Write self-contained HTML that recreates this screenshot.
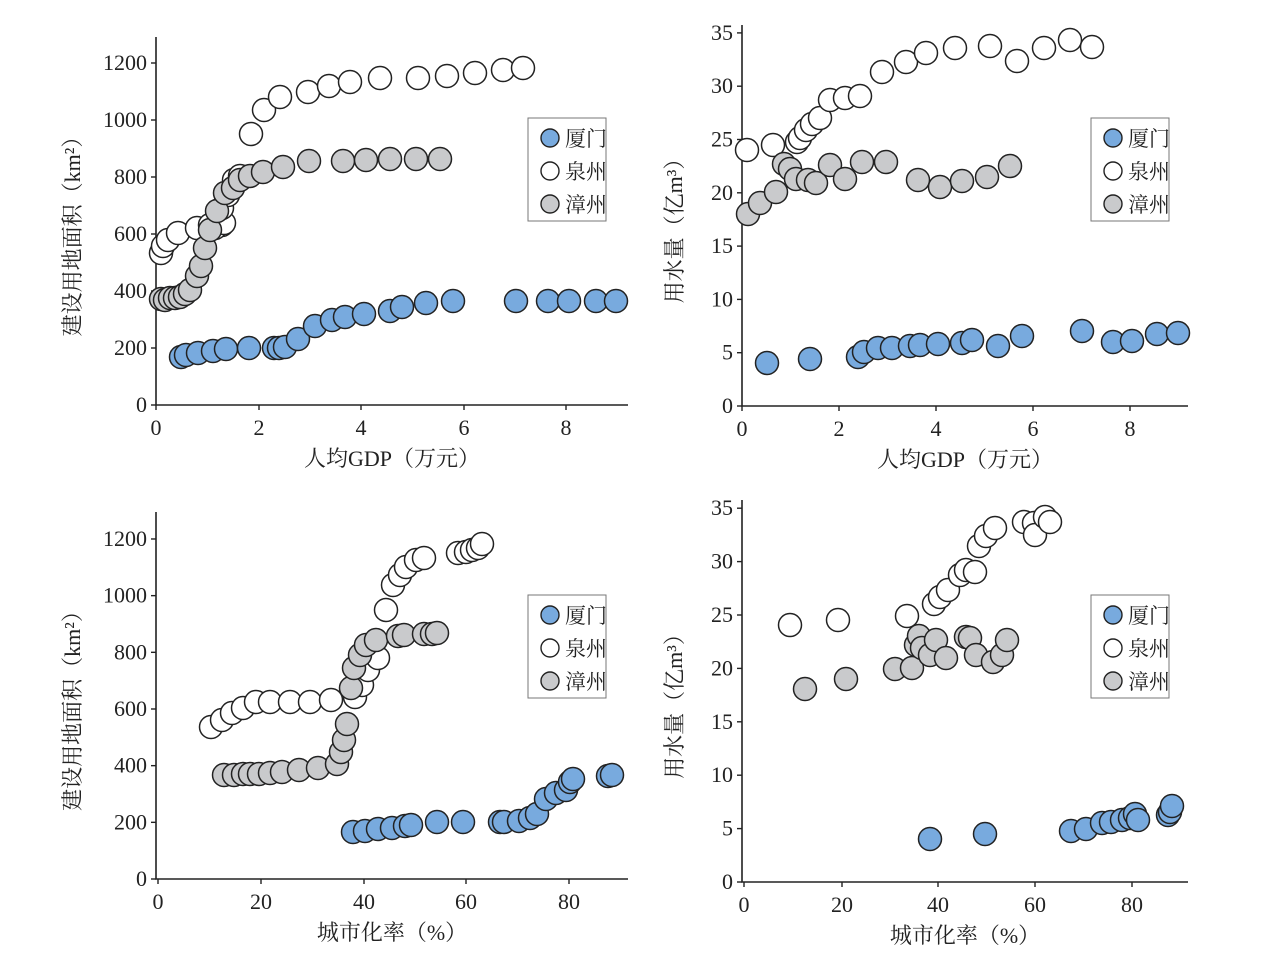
<!DOCTYPE html>
<html><head><meta charset="utf-8"><style>
body{margin:0;background:#fff}
svg text{font-family:"Liberation Serif","Noto Serif CJK SC",serif;fill:#222}
</style></head><body>
<svg id="s" width="1268" height="967" xmlns="http://www.w3.org/2000/svg"></svg>
<script>
const s=document.getElementById('s');let h='';
const B='#78aade',W='#fff',G='#c9cacc';
function ax(x0,yb,yt,xe,yt_ticks,xt_ticks,xl,yl,off){
 h+=`<path d="M${x0} ${yt}V${yb}H${xe}" stroke="#222" stroke-width="1.6" fill="none"/>`;
 for(const [v,y] of yt_ticks){h+=`<path d="M${x0-5} ${y}H${x0}" stroke="#222" stroke-width="1.4"/><text x="${x0-9}" y="${y+7}" font-size="22" text-anchor="end">${v}</text>`;}
 for(const [v,x] of xt_ticks){h+=`<path d="M${x} ${yb}V${yb+5}" stroke="#222" stroke-width="1.4"/><text x="${x}" y="${yb+30}" font-size="22" text-anchor="middle">${v}</text>`;}
 h+=`<text x="${(x0+xe)/2}" y="${yb+61}" font-size="22" text-anchor="middle">${xl}</text>`;
 const cy=(yb+yt)/2+10;
 h+=`<text transform="translate(${x0-off},${cy}) rotate(-90)" font-size="22" text-anchor="middle">${yl}</text>`;
}
function leg(x,y){h+=`<rect x="${x}" y="${y}" width="78" height="103" fill="#fff" stroke="#777" stroke-width="1"/>`;
 [['厦门',B],['泉州',W],['漳州',G]].forEach((e,i)=>{const cy=y+20+i*33;h+=`<circle cx="${x+22}" cy="${cy}" r="9" fill="${e[1]}" stroke="#222" stroke-width="1.4"/><text x="${x+37}" y="${cy+8}" font-size="21">${e[0]}</text>`;});}
function pts(a,c){for(const [x,y] of a)h+=`<circle cx="${x}" cy="${y}" r="11.5" fill="${c}" stroke="#222" stroke-width="1.5"/>`;}
// TL
ax(156,405,37,628,[[0,405],[200,348],[400,291],[600,234],[800,177],[1000,120],[1200,63]],[[0,156],[2,259],[4,361],[6,464],[8,566]],'人均GDP（万元）','建设用地面积（km²）',76);
pts([[161,253],[163,246],[168,240],[178,233],[197,228],[210,225],[222,225],[215,228],[224,223],[222,208],[228,195],[234,180],[240,176],[251,134],[264,110],[280,97],[308,92],[329,86],[350,82],[380,78],[418,78],[447,76],[475,73],[503,70],[523,68]],W);
pts([[161,299],[165,300],[170,298],[175,298],[180,297],[185,294],[190,290],[197,276],[201,266],[205,248],[210,230],[217,211],[225,193],[233,188],[240,180],[250,176],[263,172],[283,167],[309,161],[343,161],[366,160],[390,159],[416,159],[440,159]],G);
pts([[181,357],[186,355],[198,353],[213,351],[226,349],[249,348],[274,348],[279,348],[285,347],[298,339],[315,326],[332,320],[345,317],[364,314],[390,311],[402,307],[426,303],[453,301],[516,301],[548,301],[569,301],[596,301],[616,301]],B);
leg(528,118);
// TR
let ty=[];for(let i=0;i<=7;i++)ty.push([i*5,406-i*53.3]);
ax(742,406,25,1188,ty,[[0,742],[2,839],[4,936],[6,1033],[8,1130]],'人均GDP（万元）','用水量（亿m³）',60);
pts([[747,150],[773,145],[797,142],[800,138],[806,130],[812,124],[820,118],[830,100],[845,98],[860,96],[882,72],[906,62],[926,53],[955,48],[990,46],[1017,61],[1044,48],[1070,40],[1092,47]],W);
pts([[748,214],[760,203],[776,192],[784,164],[790,169],[796,179],[808,180],[816,183],[830,165],[845,179],[862,162],[886,162],[918,180],[940,187],[962,181],[987,177],[1010,166]],G);
pts([[767,363],[810,359],[858,357],[864,352],[878,348],[892,348],[910,346],[920,345],[938,344],[962,343],[972,340],[998,346],[1022,336],[1082,331],[1113,342],[1132,341],[1157,334],[1178,333]],B);
leg(1091,118);
// BL
let by=[];for(let i=0;i<=6;i++)by.push([i*200,879-i*56.67]);
ax(156,879,512,628,by,[[0,158],[20,261],[40,364],[60,466],[80,569]],'城市化率（%）','建设用地面积（km²）',76);
pts([[211,727],[222,720],[232,713],[243,708],[256,702],[270,702],[290,702],[310,702],[331,700],[355,697],[362,685],[368,670],[378,658],[386,610],[393,585],[400,575],[406,567],[416,560],[424,558],[458,553],[466,552],[472,550],[478,548],[482,544]],W);
pts([[224,775],[234,775],[243,774],[250,774],[259,774],[270,773],[282,772],[299,770],[318,768],[337,764],[341,752],[344,740],[347,724],[351,688],[354,668],[360,655],[366,645],[376,640],[398,636],[404,635],[424,634],[432,634],[437,633]],G);
pts([[353,832],[365,831],[378,829],[392,828],[405,826],[411,825],[437,822],[463,822],[500,822],[504,822],[519,821],[530,818],[537,814],[546,799],[556,793],[566,790],[570,782],[573,779],[608,776],[612,775]],B);
leg(528,595);
// BR
let ry=[];for(let i=0;i<=7;i++)ry.push([i*5,882-i*53.4]);
ax(742,882,500,1188,ry,[[0,744],[20,842],[40,938],[60,1035],[80,1132]],'城市化率（%）','用水量（亿m³）',60);
pts([[790,625],[838,620],[907,616],[934,604],[940,597],[948,590],[960,575],[966,570],[975,572],[979,546],[986,536],[995,528],[1024,522],[1034,523],[1035,535],[1045,517],[1050,522]],W);
pts([[805,689],[846,679],[895,669],[912,668],[916,645],[919,636],[922,648],[930,655],[936,640],[946,658],[966,637],[970,638],[976,655],[993,662],[1002,655],[1007,640]],G);
pts([[930,839],[985,834],[1071,831],[1086,829],[1102,823],[1111,822],[1122,820],[1130,818],[1135,814],[1138,820],[1168,815],[1170,812],[1172,806]],B);
leg(1091,595);
s.innerHTML=h;
</script>
</body></html>
